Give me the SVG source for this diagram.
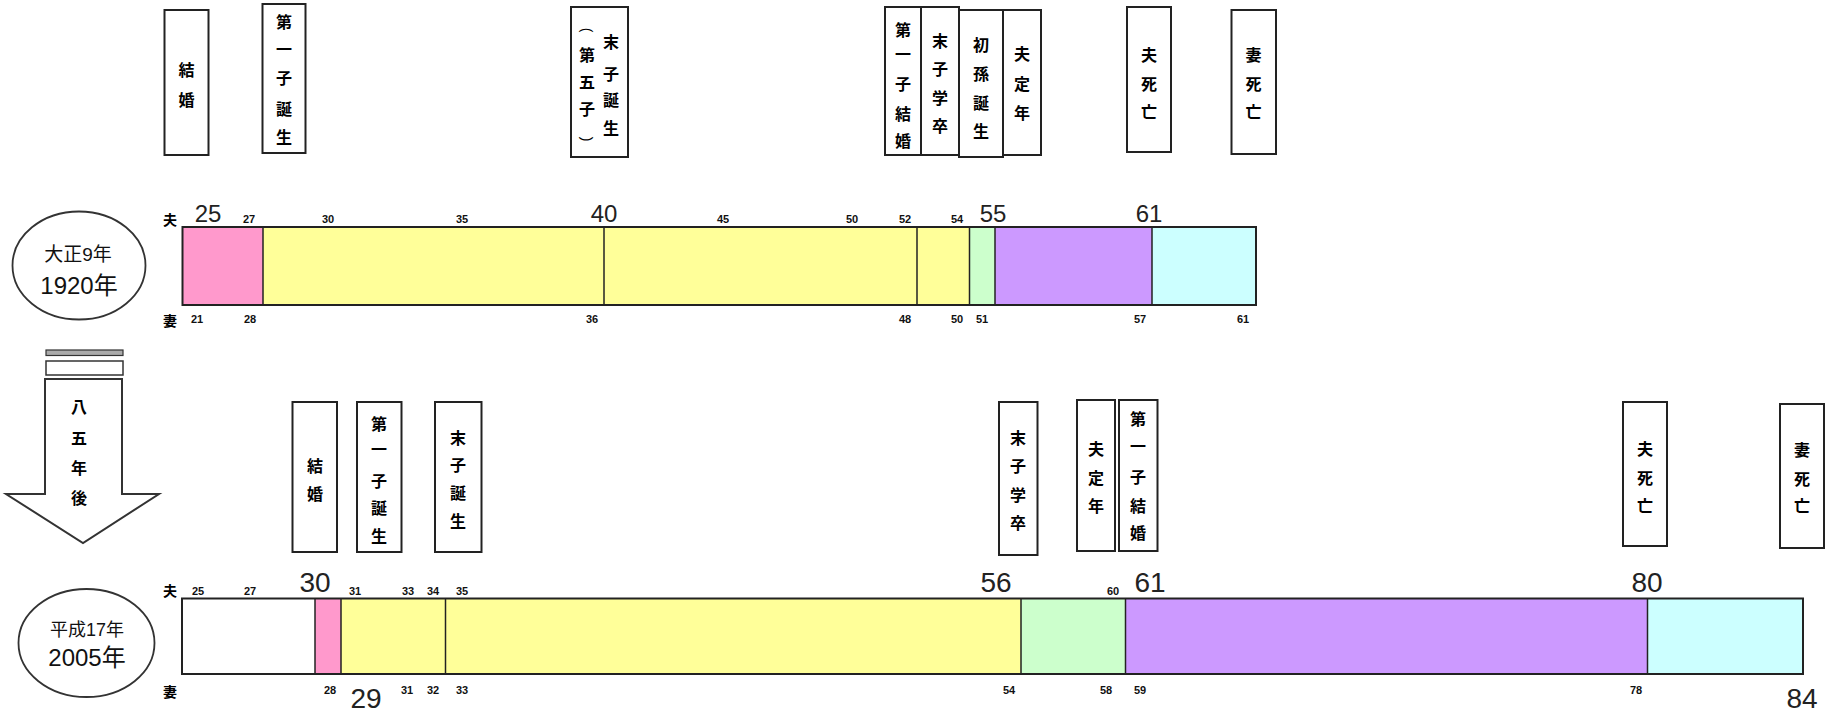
<svg xmlns="http://www.w3.org/2000/svg" width="1835" height="714" viewBox="0 0 1835 714">
<style>
.box{fill:#fff;stroke:#222;stroke-width:2}
.vt{font-family:"Noto Sans CJK JP","Noto Sans CJK SC",sans-serif;font-size:16px;font-weight:bold;text-anchor:middle;dominant-baseline:central;fill:#000}
.par{font-family:"Liberation Sans",sans-serif;font-size:14px;text-anchor:middle;dominant-baseline:central;fill:#000}
.big{font-family:"Liberation Sans",sans-serif;text-anchor:middle;fill:#222}
.t{font-size:24px}
.b{font-size:28px}
.sm{font-family:"Liberation Sans",sans-serif;font-size:11px;font-weight:bold;text-anchor:middle;fill:#111}
.lb{font-family:"Noto Sans CJK JP",sans-serif;font-size:14px;font-weight:bold;text-anchor:middle;fill:#000}
.seg{stroke:#222;stroke-width:1.5}
.ell{fill:#fff;stroke:#333;stroke-width:1.8}
.ct{font-family:"Liberation Sans","Noto Sans CJK JP","Noto Sans CJK SC",sans-serif;text-anchor:middle;dominant-baseline:central;fill:#111}
.pink{fill:#FF99CC}.yel{fill:#FFFF99}.grn{fill:#CCFFCC}.pur{fill:#CC99FF}.cyn{fill:#CCFFFF}.wht{fill:#fff}
</style>

<!-- top era label -->
<g id="era1920">
<ellipse class="ell" cx="79" cy="265.5" rx="66.5" ry="54"/>
<text class="ct" x="78" y="254" font-size="19">大正9年</text>
<text class="ct" x="79" y="285" font-size="24">1920年</text>
</g>

<!-- bottom era label -->
<g id="era2005">
<ellipse class="ell" cx="86.5" cy="643" rx="68" ry="54"/>
<text class="ct" x="87" y="630" font-size="18">平成17年</text>
<text class="ct" x="87" y="657" font-size="24">2005年</text>
</g>

<!-- arrow -->
<g id="arrow">
<rect x="46" y="350" width="77" height="5.5" fill="#aaa" stroke="#333" stroke-width="1.2"/>
<rect x="46" y="361" width="77" height="14" fill="#fff" stroke="#333" stroke-width="1.5"/>
<path d="M45,379 H122 V494 H159 L83,543 L6,494 H45 Z" fill="#fff" stroke="#333" stroke-width="2"/>
<text class="vt" font-size="18"><tspan x="79" y="406">八</tspan><tspan x="79" y="437">五</tspan><tspan x="79" y="467">年</tspan><tspan x="79" y="497">後</tspan></text>
</g>

<!-- top event boxes -->
<g id="t-kekkon"><rect class="box" x="164.5" y="10" width="44" height="145"/>
<text class="vt"><tspan x="186.5" y="68.5">結</tspan><tspan x="186.5" y="99">婚</tspan></text></g>
<g id="t-daiichishi"><rect class="box" x="262.5" y="4" width="43" height="149"/>
<text class="vt"><tspan x="284" y="21">第</tspan><tspan x="284" y="48">一</tspan><tspan x="284" y="77">子</tspan><tspan x="284" y="108">誕</tspan><tspan x="284" y="136">生</tspan></text></g>
<g id="t-masshi"><rect class="box" x="571" y="7" width="57" height="150"/>
<text class="vt"><tspan x="611" y="41">末</tspan><tspan x="611" y="73">子</tspan><tspan x="611" y="99">誕</tspan><tspan x="611" y="127">生</tspan></text>
<text class="par" transform="translate(587,30) rotate(90)">(</text>
<text class="vt"><tspan x="587" y="54">第</tspan><tspan x="587" y="81">五</tspan><tspan x="587" y="108">子</tspan></text>
<text class="par" transform="translate(587,139) rotate(90)">)</text></g>
<g id="t-daiichishikekkon"><rect class="box" x="885" y="7" width="36" height="148"/>
<text class="vt"><tspan x="903" y="29">第</tspan><tspan x="903" y="53">一</tspan><tspan x="903" y="83">子</tspan><tspan x="903" y="113">結</tspan><tspan x="903" y="140">婚</tspan></text></g>
<g id="t-masshigakusotsu"><rect class="box" x="921" y="7" width="38" height="148"/>
<text class="vt"><tspan x="940" y="40">末</tspan><tspan x="940" y="68">子</tspan><tspan x="940" y="97">学</tspan><tspan x="940" y="125">卒</tspan></text></g>
<g id="t-hatsumago"><rect class="box" x="959" y="10" width="44" height="147"/>
<text class="vt"><tspan x="981" y="44">初</tspan><tspan x="981" y="73">孫</tspan><tspan x="981" y="102">誕</tspan><tspan x="981" y="130">生</tspan></text></g>
<g id="t-teinen"><rect class="box" x="1003" y="10" width="38" height="145"/>
<text class="vt"><tspan x="1022" y="53">夫</tspan><tspan x="1022" y="83">定</tspan><tspan x="1022" y="112">年</tspan></text></g>
<g id="t-ottoshibou"><rect class="box" x="1127" y="7" width="44" height="145"/>
<text class="vt"><tspan x="1149" y="54">夫</tspan><tspan x="1149" y="83">死</tspan><tspan x="1149" y="111">亡</tspan></text></g>
<g id="t-tsumashibou"><rect class="box" x="1231.5" y="10" width="44.5" height="144"/>
<text class="vt"><tspan x="1253.5" y="54">妻</tspan><tspan x="1253.5" y="83">死</tspan><tspan x="1253.5" y="111">亡</tspan></text></g>

<!-- bottom event boxes -->
<g id="b-kekkon"><rect class="box" x="292.5" y="402" width="44.5" height="150"/>
<text class="vt"><tspan x="315" y="465">結</tspan><tspan x="315" y="493">婚</tspan></text></g>
<g id="b-daiichishi"><rect class="box" x="357" y="402" width="44.5" height="150"/>
<text class="vt"><tspan x="379" y="423">第</tspan><tspan x="379" y="448">一</tspan><tspan x="379" y="480">子</tspan><tspan x="379" y="507">誕</tspan><tspan x="379" y="535">生</tspan></text></g>
<g id="b-masshi"><rect class="box" x="435" y="402" width="46.5" height="150"/>
<text class="vt"><tspan x="458" y="437">末</tspan><tspan x="458" y="464">子</tspan><tspan x="458" y="492">誕</tspan><tspan x="458" y="520">生</tspan></text></g>
<g id="b-masshigakusotsu"><rect class="box" x="999" y="402" width="38.5" height="153"/>
<text class="vt"><tspan x="1018" y="437">末</tspan><tspan x="1018" y="465">子</tspan><tspan x="1018" y="494">学</tspan><tspan x="1018" y="522">卒</tspan></text></g>
<g id="b-teinen"><rect class="box" x="1077" y="400" width="38" height="151"/>
<text class="vt"><tspan x="1096" y="448">夫</tspan><tspan x="1096" y="477">定</tspan><tspan x="1096" y="505">年</tspan></text></g>
<g id="b-daiichishikekkon"><rect class="box" x="1119" y="400" width="38.5" height="151"/>
<text class="vt"><tspan x="1138" y="418">第</tspan><tspan x="1138" y="445">一</tspan><tspan x="1138" y="476">子</tspan><tspan x="1138" y="505">結</tspan><tspan x="1138" y="532">婚</tspan></text></g>
<g id="b-ottoshibou"><rect class="box" x="1623" y="402" width="44" height="144"/>
<text class="vt"><tspan x="1645" y="448">夫</tspan><tspan x="1645" y="477">死</tspan><tspan x="1645" y="505">亡</tspan></text></g>
<g id="b-tsumashibou"><rect class="box" x="1780" y="404" width="44" height="144"/>
<text class="vt"><tspan x="1802" y="449">妻</tspan><tspan x="1802" y="478">死</tspan><tspan x="1802" y="505">亡</tspan></text></g>

<!-- top bar -->
<g id="bar1920">
<rect class="pink" x="182.5" y="227" width="80.5" height="78"/>
<rect class="yel" x="263" y="227" width="341" height="78"/>
<rect class="yel" x="604" y="227" width="313" height="78"/>
<rect class="yel" x="917" y="227" width="52.5" height="78"/>
<rect class="grn" x="969.5" y="227" width="25.5" height="78"/>
<rect class="pur" x="995" y="227" width="157" height="78"/>
<rect class="cyn" x="1152" y="227" width="104" height="78"/>
<g class="seg">
<line x1="263" y1="227" x2="263" y2="305"/><line x1="604" y1="227" x2="604" y2="305"/><line x1="917" y1="227" x2="917" y2="305"/><line x1="969.5" y1="227" x2="969.5" y2="305"/><line x1="995" y1="227" x2="995" y2="305"/><line x1="1152" y1="227" x2="1152" y2="305"/>
</g>
<rect x="182.5" y="227" width="1073.5" height="78" fill="none" stroke="#222" stroke-width="2"/>
<text class="lb" x="170" y="225">夫</text>
<text class="lb" x="170" y="326">妻</text>
<text class="big t" x="208" y="222">25</text>
<text class="big t" x="604" y="222">40</text>
<text class="big t" x="993" y="222">55</text>
<text class="big t" x="1149" y="222">61</text>
<text class="sm" x="249" y="223">27</text>
<text class="sm" x="328" y="223">30</text>
<text class="sm" x="462" y="223">35</text>
<text class="sm" x="723" y="223">45</text>
<text class="sm" x="852" y="223">50</text>
<text class="sm" x="905" y="223">52</text>
<text class="sm" x="957" y="223">54</text>
<text class="sm" x="197" y="323">21</text>
<text class="sm" x="250" y="323">28</text>
<text class="sm" x="592" y="323">36</text>
<text class="sm" x="905" y="323">48</text>
<text class="sm" x="957" y="323">50</text>
<text class="sm" x="982" y="323">51</text>
<text class="sm" x="1140" y="323">57</text>
<text class="sm" x="1243" y="323">61</text>
</g>

<!-- bottom bar -->
<g id="bar2005">
<rect class="wht" x="182" y="598.5" width="133" height="75.5"/>
<rect class="pink" x="315" y="598.5" width="26" height="75.5"/>
<rect class="yel" x="341" y="598.5" width="104.5" height="75.5"/>
<rect class="yel" x="445.5" y="598.5" width="575.5" height="75.5"/>
<rect class="grn" x="1021" y="598.5" width="104.5" height="75.5"/>
<rect class="pur" x="1125.5" y="598.5" width="522" height="75.5"/>
<rect class="cyn" x="1647.5" y="598.5" width="155.5" height="75.5"/>
<g class="seg">
<line x1="315" y1="598.5" x2="315" y2="674"/><line x1="341" y1="598.5" x2="341" y2="674"/><line x1="445.5" y1="598.5" x2="445.5" y2="674"/><line x1="1021" y1="598.5" x2="1021" y2="674"/><line x1="1125.5" y1="598.5" x2="1125.5" y2="674"/><line x1="1647.5" y1="598.5" x2="1647.5" y2="674"/>
</g>
<rect x="182" y="598.5" width="1621" height="75.5" fill="none" stroke="#222" stroke-width="2"/>
<text class="lb" x="170" y="596">夫</text>
<text class="lb" x="170" y="697">妻</text>
<text class="big b" x="315" y="592">30</text>
<text class="big b" x="996" y="592">56</text>
<text class="big b" x="1150" y="592">61</text>
<text class="big b" x="1647" y="592">80</text>
<text class="big b" x="366" y="708">29</text>
<text class="big b" x="1802" y="708">84</text>
<text class="sm" x="198" y="595">25</text>
<text class="sm" x="250" y="595">27</text>
<text class="sm" x="355" y="595">31</text>
<text class="sm" x="408" y="595">33</text>
<text class="sm" x="433" y="595">34</text>
<text class="sm" x="462" y="595">35</text>
<text class="sm" x="1113" y="595">60</text>
<text class="sm" x="330" y="694">28</text>
<text class="sm" x="407" y="694">31</text>
<text class="sm" x="433" y="694">32</text>
<text class="sm" x="462" y="694">33</text>
<text class="sm" x="1009" y="694">54</text>
<text class="sm" x="1106" y="694">58</text>
<text class="sm" x="1140" y="694">59</text>
<text class="sm" x="1636" y="694">78</text>
</g>
</svg>
